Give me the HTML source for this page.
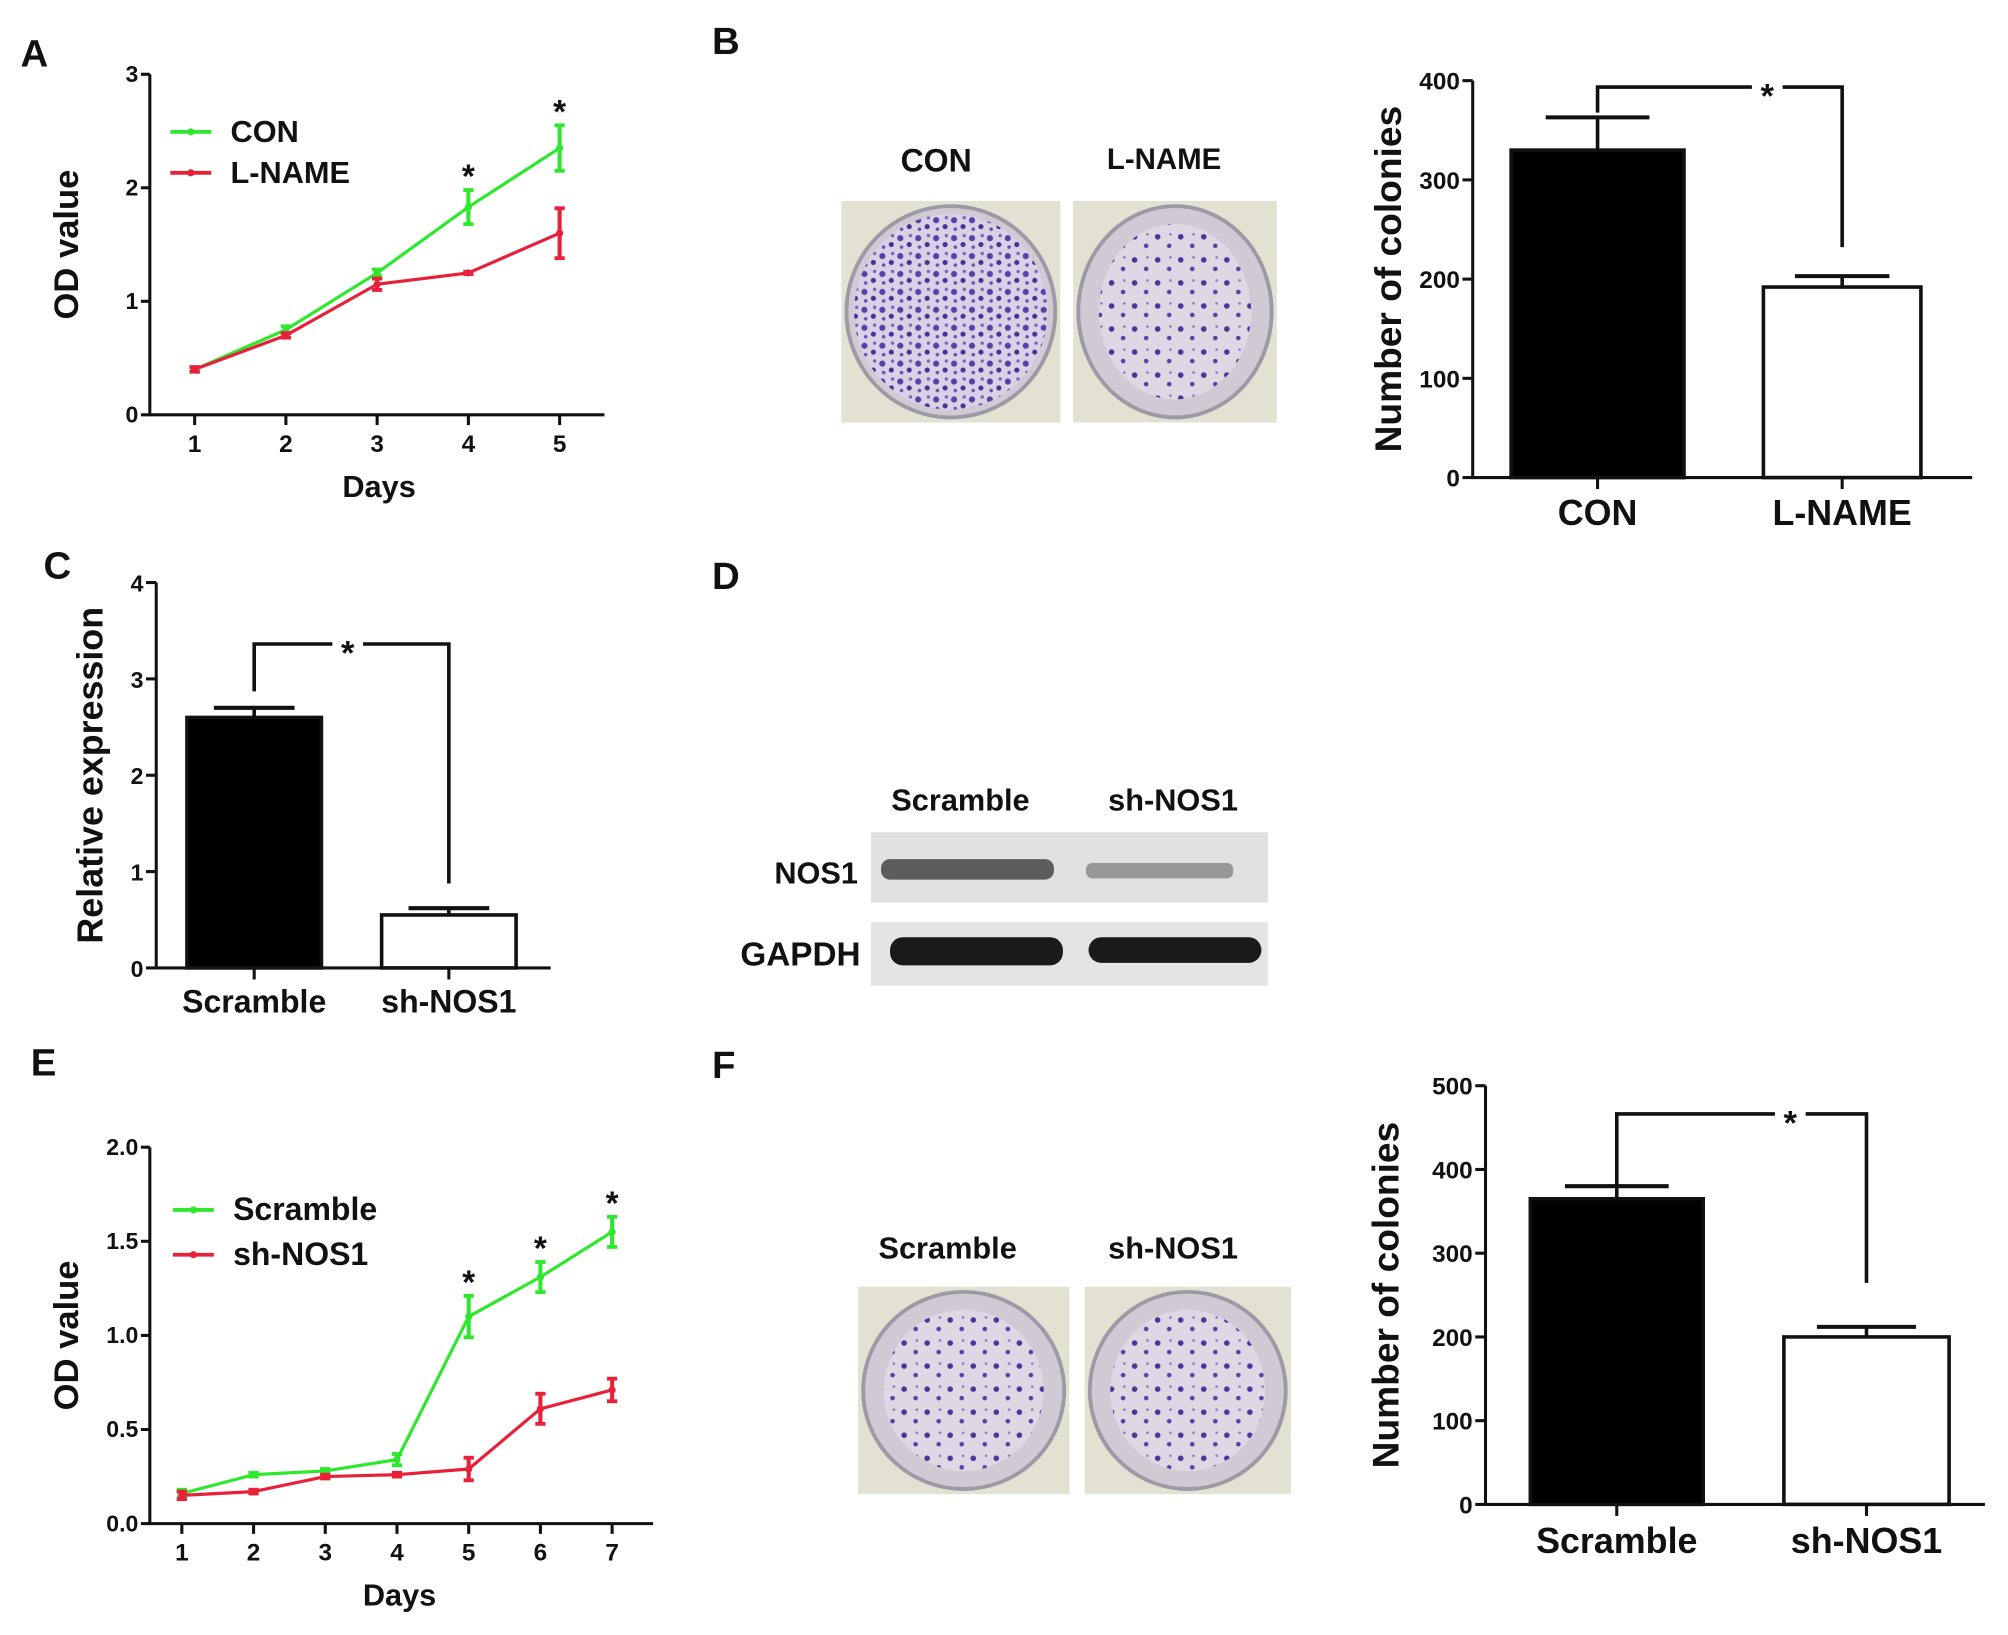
<!DOCTYPE html>
<html><head><meta charset="utf-8">
<style>
html,body{margin:0;padding:0;background:#fff;}
svg{display:block;font-family:"Liberation Sans",Arial,sans-serif;font-weight:bold;}
</style></head>
<body>
<svg id="fig" width="2008" height="1635" viewBox="0 0 1568 1277" preserveAspectRatio="none" xmlns="http://www.w3.org/2000/svg">
<defs>
<pattern id="dots" width="14" height="14" patternUnits="userSpaceOnUse">
<rect width="14" height="14" fill="#d9d2e6"/>
<circle cx="3" cy="4" r="2.4" fill="#5b3fa8"/>
<circle cx="10" cy="9" r="2" fill="#4a2f96"/>
<circle cx="11" cy="2" r="1.3" fill="#7b62bb"/>
<circle cx="4" cy="11" r="1.4" fill="#6a50b0"/>
</pattern>
<pattern id="dots2" width="18" height="18" patternUnits="userSpaceOnUse">
<rect width="18" height="18" fill="#ddd8e3"/>
<circle cx="4" cy="5" r="2.2" fill="#4d339b"/>
<circle cx="13" cy="12" r="1.8" fill="#5a40a6"/>
<circle cx="14" cy="3" r="1" fill="#8672c2"/>
</pattern>
</defs>
<g id="root"></g>
</svg>
<script>
// ---- data ----
const daysA = [1,2,3,4,5];
const conA = [0.40,0.75,1.25,1.83,2.35];
const conAErr = [0.02,0.03,0.03,0.15,0.20];
const lnameA = [0.40,0.70,1.15,1.25,1.60];
const lnameAErr = [0.02,0.02,0.05,0.01,0.22];
const starsA = [4,5];
const yTicksA = [0,1,2,3];

const catsB = ["CON","L-NAME"];
const valsB = [330,192];
const errB = [33,11];
const yTicksB = [0,100,200,300,400];

const catsC = ["Scramble","sh-NOS1"];
const valsC = [2.6,0.55];
const errC = [0.1,0.07];
const yTicksC = [0,1,2,3,4];

const daysE = [1,2,3,4,5,6,7];
const scrE = [0.16,0.26,0.28,0.34,1.10,1.31,1.55];
const scrEErr = [0.02,0.01,0.01,0.03,0.11,0.08,0.08];
const shE = [0.15,0.17,0.25,0.26,0.29,0.61,0.71];
const shEErr = [0.02,0.01,0.01,0.01,0.06,0.08,0.06];
const starsE = [5,6,7];
const yTicksE = ["0.0","0.5","1.0","1.5","2.0"];

const catsF = ["Scramble","sh-NOS1"];
const valsF = [365,200];
const errF = [15,12];
const yTicksF = [0,100,200,300,400,500];

const NS="http://www.w3.org/2000/svg";
const root=document.getElementById('root');
function mk(tag,attrs,parent,txt){const e=document.createElementNS(NS,tag);for(const k in attrs)e.setAttribute(k,attrs[k]);if(txt!==undefined)e.textContent=txt;(parent||root).appendChild(e);return e;}
function grp(name){const g=mk('g',{});


return g;}
function line(g,x1,y1,x2,y2,c,w){const l=mk('line',{x1,y1,x2,y2,stroke:c||'#111','stroke-width':w||2.4},g);


return l;}
function text(g,x,y,s,size,anchor,name,extra){const t=mk('text',Object.assign({x,y,'font-size':size,'text-anchor':anchor||'middle',fill:'#111'},extra||{}),g,s);


return t;}

// panel letters
[["A",16,52],["B",556,42],["C",34,452],["D",556,460],["E",24,840],["F",556,842]].forEach(p=>{text(root,p[1],p[2],p[0],30,'start','panel-letter-'+p[0].toLowerCase());});

// ---------- line chart helper ----------
function lineChart(o){
  const g=grp(o.name);
  const sx=d=>o.x0+(d-o.days[0])*(o.x1-o.x0)/(o.days[o.days.length-1]-o.days[0]);
  const sy=v=>o.yb-(v-o.ymin)*(o.yb-o.yt)/(o.ymax-o.ymin);
  line(g,o.ax,o.yt,o.ax,o.yb+1);
  line(g,o.ax-1,o.yb,o.axEnd,o.yb);
  o.yTicks.forEach(t=>{const v=parseFloat(t);line(g,o.ax-7,sy(v),o.ax,sy(v));text(g,o.ax-9,sy(v)+6,String(t),18,'end','y-tick-label');});
  o.days.forEach(d=>{line(g,sx(d),o.yb,sx(d),o.yb+8);text(g,sx(d),o.yb+29,String(d),19,'middle','x-tick-label');});
  text(g,o.daysX,o.yb+64,'Days',24,'middle','x-axis-title');
  const cy=(o.yt+o.yb)/2;
  text(g,o.ax-56,cy,'OD value',27,'middle','y-axis-title',{transform:`rotate(-90 ${o.ax-56} ${cy})`});
  o.series.forEach((s,si)=>{
    const pts=o.days.map((d,i)=>sx(d)+','+sy(s.vals[i])).join(' ');
    const pl=mk('polyline',{points:pts,fill:'none',stroke:s.color,'stroke-width':2.5},g);
    
    
    o.days.forEach((d,i)=>{
      const x=sx(d),v=s.vals[i],e=s.err[i];
      line(g,x,sy(v-e),x,sy(v+e),s.color,3.2);
      line(g,x-4,sy(v-e),x+4,sy(v-e),s.color,3);
      line(g,x-4,sy(v+e),x+4,sy(v+e),s.color,3);
      const c=mk('circle',{cx:x,cy:sy(v),r:2.8,fill:s.color},g);
      
      
    });
    const ly=o.legY+si*o.legGap;
    line(g,o.legX,ly,o.legX+32,ly,s.color,3);
    mk('circle',{cx:o.legX+16,cy:ly,r:2.8,fill:s.color},g);
    text(g,o.legX+47,ly+8,s.label,o.legSize,'start','legend-'+s.key);
  });
  o.stars.forEach(d=>{const i=o.days.indexOf(d);const s=o.series[0];text(g,sx(d),sy(s.vals[i]+s.err[i])-2,'*',26,'middle','significance-star');});
}

lineChart({name:'panel-a-growth-chart',days:daysA,x0:152,x1:437,ax:117,axEnd:472,daysX:296,yt:58,yb:324,ymin:0,ymax:3,yTicks:yTicksA,
  series:[{key:'con',label:'CON',vals:conA,err:conAErr,color:'#2ee82e'},{key:'l-name',label:'L-NAME',vals:lnameA,err:lnameAErr,color:'#e8213a'}],
  stars:starsA,legX:133,legY:103,legGap:32,legSize:24});

lineChart({name:'panel-e-growth-chart',days:daysE,x0:142,x1:478,ax:117,axEnd:510,daysX:312,yt:896,yb:1190,ymin:0,ymax:2,yTicks:yTicksE,
  series:[{key:'scramble',label:'Scramble',vals:scrE,err:scrEErr,color:'#2ee82e'},{key:'sh-nos1',label:'sh-NOS1',vals:shE,err:shEErr,color:'#e8213a'}],
  stars:starsE,legX:135,legY:945,legGap:35,legSize:25});

// ---------- bar chart helper ----------
function barChart(o){
  const g=grp(o.name);
  const sy=v=>o.yb-v*(o.yb-o.yt)/o.ymax;
  o.yTicks.forEach(t=>{line(g,o.ax-8,sy(t),o.ax,sy(t));text(g,o.ax-10,sy(t)+7,String(t),o.tickSize,'end','y-tick-label');});
  o.cats.forEach((c,i)=>{
    const [bx0,bx1]=o.bars[i];const cx=(bx0+bx1)/2;
    const e=o.err[i],v=o.vals[i];
    line(g,cx,sy(v),cx,sy(v+e),'#111',2.8);
    line(g,cx-(bx1-bx0)*0.3,sy(v+e),cx+(bx1-bx0)*0.3,sy(v+e),'#111',3.2);
    const r=mk('rect',{x:bx0,y:sy(v),width:bx1-bx0,height:o.yb-sy(v),fill:i===0?'#000':'#fff',stroke:'#111','stroke-width':2.8},g);
    
    
    line(g,cx,o.yb,cx,o.yb+9);
    text(g,cx,o.yb+o.labOff,c,o.labSize,'middle','x-category-label');
  });
  line(g,o.ax,o.yt,o.ax,o.yb+1);
  line(g,o.ax-1,o.yb,o.axEnd,o.yb);
  const cy=(o.yt+o.yb)/2;
  text(g,o.titleX,cy,o.title,o.titleSize,'middle','y-axis-title',{transform:`rotate(-90 ${o.titleX} ${cy})`});
  const c0=(o.bars[0][0]+o.bars[0][1])/2,c1=(o.bars[1][0]+o.bars[1][1])/2;
  const by=o.bracketY, sx=(c0+c1)/2+o.starDx;
  const p=mk('polyline',{points:`${c0},${o.legL} ${c0},${by} ${sx-12},${by}`,fill:'none',stroke:'#111','stroke-width':2.8},g);
  
  
  const p2=mk('polyline',{points:`${sx+12},${by} ${c1},${by} ${c1},${o.legR}`,fill:'none',stroke:'#111','stroke-width':2.8},g);
  
  
  text(g,sx,by+16,'*',27,'middle','significance-star');
}

barChart({name:'panel-b-colony-chart',cats:catsB,vals:valsB,err:errB,yTicks:yTicksB,ymax:400,ax:1150,axEnd:1540,yt:63,yb:373,
  bars:[[1180,1315],[1377,1500]],labOff:37,labSize:28,tickSize:19,title:'Number of colonies',titleX:1094,titleSize:29,
  bracketY:68,legL:88,legR:193,starDx:37});
barChart({name:'panel-c-expression-chart',cats:catsC,vals:valsC,err:errC,yTicks:yTicksC,ymax:4,ax:122,axEnd:430,yt:455,yb:756,
  bars:[[146,251],[298,403]],labOff:35,labSize:25,tickSize:18,title:'Relative expression',titleX:80,titleSize:28,
  bracketY:503,legL:540,legR:690,starDx:-3});
barChart({name:'panel-f-colony-chart',cats:catsF,vals:valsF,err:errF,yTicks:yTicksF,ymax:500,ax:1160,axEnd:1550,yt:848,yb:1175,
  bars:[[1195,1330],[1393,1522]],labOff:38,labSize:28,tickSize:19,title:'Number of colonies',titleX:1092,titleSize:29,
  bracketY:870,legL:928,legR:1002,starDx:38});

// ---------- colony photos ----------
function photo(name,x,y,w,h,pat){
  const g=grp(name);
  const r=mk('rect',{x,y,width:w,height:h,fill:'#e2e1d2'},g);
  
  
  const c=mk('ellipse',{cx:x+w/2,cy:y+h/2,rx:w/2-4,ry:h/2-4,fill:'#cfcad3',stroke:'#9d9aa6','stroke-width':3},g);
  
  
  const c2=mk('ellipse',{cx:x+w/2,cy:y+h/2,rx:w/2-(pat==='dots'?10:20),ry:h/2-(pat==='dots'?10:18),fill:`url(#${pat})`},g);
  
  
}
photo('photo-con',657,157,171,173,'dots');
photo('photo-l-name',838,157,159,173,'dots2');
text(root,731,134,'CON',25,'middle','photo-label-con');
text(root,909,132,'L-NAME',23,'middle','photo-label-l-name');
photo('photo-scramble',670,1005,165,162,'dots2');
photo('photo-sh-nos1',847,1005,161,162,'dots2');
text(root,740,983,'Scramble',24,'middle','photo-label-scramble');
text(root,916,983,'sh-NOS1',24,'middle','photo-label-sh-nos1');

// ---------- western blot ----------
const wb=grp('panel-d-western-blot');
text(wb,750,633,'Scramble',24,'middle','blot-lane-scramble');
text(wb,916,633,'sh-NOS1',24,'middle','blot-lane-sh-nos1');
let r1=mk('rect',{x:680,y:650,width:310,height:55,fill:'#e0e0e0'},wb);


let b1=mk('rect',{x:688,y:671,width:135,height:16,rx:7,fill:'#444',opacity:0.85},wb);


let b2=mk('rect',{x:848,y:674,width:115,height:12,rx:5,fill:'#777',opacity:0.7},wb);


let r2=mk('rect',{x:680,y:720,width:310,height:50,fill:'#e4e4e4'},wb);


let b3=mk('rect',{x:695,y:732,width:135,height:22,rx:10,fill:'#1a1a1a'},wb);


let b4=mk('rect',{x:850,y:732,width:135,height:20,rx:10,fill:'#1a1a1a'},wb);


text(wb,670,690,'NOS1',24,'end','blot-label-nos1');
text(wb,672,754,'GAPDH',26,'end','blot-label-gapdh');
</script>
</body></html>
